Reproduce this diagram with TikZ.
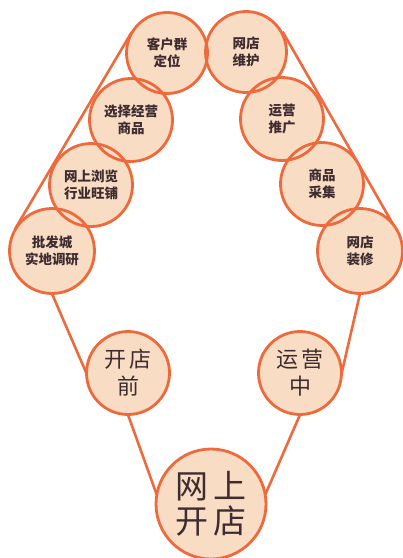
\documentclass[tikz,border=0pt]{standalone}
\usepackage{fontspec}
\setmainfont{Noto Sans CJK SC}
\definecolor{ring}{HTML}{EE6A3C}
\definecolor{peach}{HTML}{F8DCC3}
\definecolor{ink}{HTML}{3E2C30}
\begin{document}
\begin{tikzpicture}[x=1pt,y=-1pt,
  ball/.style={circle,fill=peach,inner sep=0pt,
    minimum size=83pt,align=center,text=ink,font=\fontsize{13.5}{17}\selectfont\bfseries},
  midball/.style={ball,font=\fontsize{22}{27}\selectfont},
  bigball/.style={ball,minimum size=110pt,font=\fontsize{33}{35}\selectfont},
  rim/.style={draw=ring,line width=2.8pt},
  link/.style={draw=ring,line width=2.6pt}]
\useasboundingbox (0,0) rectangle (403,558);
% envelope tangents
\coordinate (lt1) at (14.8,229.4);
\coordinate (lt2) at (131.5,32.4);
\coordinate (rt1) at (282.6,31.7);
\coordinate (rt2) at (396.5,230.3);
\draw[link] (lt1) -- (lt2);
\draw[link] (rt1) -- (rt2);
% nodes (fills)
\node[ball,minimum size=81pt] (khq) at (167,53) {客户群\\定位};
\node[ball,minimum size=81pt] (wdwh) at (246,52) {网店\\维护};
\node[ball] (xz) at (131,120) {选择经营\\商品};
\node[ball] (yytg) at (282,119) {运营\\推广};
\node[ball] (wsll) at (91,185) {网上浏览\\行业旺铺};
\node[ball] (spcj) at (322,184) {商品\\采集};
\node[ball,minimum size=85pt] (pf) at (52,251) {批发城\\实地调研};
\node[ball,minimum size=85pt] (zx) at (360,251) {网店\\装修};
\node[midball] (kdq) at (128,373) {开\,店\\前};
\node[midball] (yyz) at (300,373) {运\,营\\中};
\node[bigball] (wskd) at (211,504) {网\,上\\开\,店};
% rims on top, so every overlap shows both arcs
\draw[rim] (khq) circle (40.5pt);
\draw[rim] (wdwh) circle (40.5pt);
\draw[rim] (xz) circle (41.5pt);
\draw[rim] (yytg) circle (41.5pt);
\draw[rim] (wsll) circle (41.5pt);
\draw[rim] (spcj) circle (41.5pt);
\draw[rim] (pf) circle (42.5pt);
\draw[rim] (zx) circle (42.5pt);
\draw[rim] (kdq) circle (41.5pt);
\draw[rim] (yyz) circle (41.5pt);
\draw[rim] (wskd) circle (55pt);
% connectors
\draw[link] (pf.south) -- (kdq.west);
\draw[link] (zx.south) -- (yyz.east);
\draw[link] (kdq.south) -- (wskd.170);
\draw[link] (yyz.south) -- (wskd.10);
\end{tikzpicture}
\end{document}
